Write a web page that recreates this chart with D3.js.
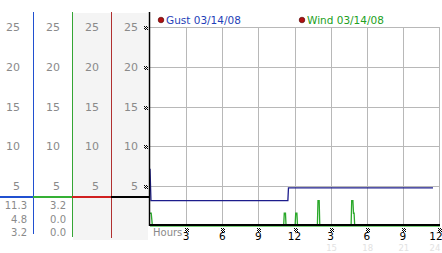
<!DOCTYPE html>
<html><head><meta charset="utf-8">
<script src="https://cdn.jsdelivr.net/npm/d3@7"></script>
<style>
html,body{margin:0;padding:0;background:#fff;}
svg{display:block;}
text{font-family:"DejaVu Sans",Verdana,sans-serif;}
</style></head>
<body>
<script>
// ---- data ----
const yTicks = [5, 10, 15, 20, 25];
const xTickHours = [3, 6, 9, 12, 15, 18, 21, 24];
const xTickLabels = ["3", "6", "9", "12", "3", "6", "9", "12"];
const faintHours = [15, 18, 21, 24];
const faintLabels = ["15", "18", "21", "24"];
const seriesNames = ["Gust 03/14/08", "Wind 03/14/08"];
const gustHours =  [0,   0.08, 11.45, 11.5, 23.5];
const gustValues = [7.2, 3.2,  3.2,   4.8,  4.8];
const windHours =  [0,   0.1, 0.2, 11.1, 11.15, 11.25, 11.3, 12.05, 12.1, 12.2, 12.25, 13.9, 13.95, 14.05, 14.1, 16.7, 16.75, 16.85, 16.9, 16.95, 17.0, 24];
const windValues = [1.6, 1.6, 0,   0,    1.6,   1.6,   0,    0,     1.6,  1.6,  0,     0,    3.2,   3.2,   0,    0,    3.2,   3.2,   1.6,  1.6,  0,    0];
const gustStats = ["11.3", "4.8", "3.2"];
const windStats = ["3.2", "0.0", "0.0"];
const markerValue = 3.6;

// ---- setup ----
const W = 442, H = 253;
const svg = d3.select("body").append("svg").attr("width", W).attr("height", H);

const x = d3.scaleLinear().domain([0, 24]).range([150, 439]);
const y = d3.scaleLinear().domain([0, 25]).range([226, 27]);

const gustColor = "#1c1c8c";
const windColor = "#2aa82a";

// left panel shading
svg.append("rect").attr("x", 73).attr("y", 13).attr("width", 75).attr("height", 227).attr("fill", "#f4f4f4");

// left panel column labels
const colRight = [20, 60, 99, 138];
colRight.forEach(cx => {
  svg.selectAll(null).data(yTicks).enter().append("text")
    .attr("x", cx).attr("y", d => y(d) + 4)
    .attr("text-anchor", "end").attr("font-size", 11).attr("fill", "#8a8a8a")
    .text(d => d);
});

// left vertical lines
const vLines = [{x: 33.5, c: "#2050d0", y2: 234}, {x: 72.5, c: "#35a535", y2: 237}, {x: 111.5, c: "#b03030", y2: 238}];
vLines.forEach(v => svg.append("line").attr("x1", v.x).attr("x2", v.x).attr("y1", 12).attr("y2", v.y2).attr("stroke", v.c).attr("stroke-width", 1));

// marker horizontal line segments
const segs = [[0, 33, "#2050d0"], [33, 72, "#35b035"], [72, 111, "#d02020"], [111, 150, "#000"]];
segs.forEach(s => svg.append("line").attr("x1", s[0]).attr("x2", s[1]).attr("y1", Math.round(y(markerValue)) ).attr("y2", Math.round(y(markerValue))).attr("stroke", s[2]).attr("stroke-width", 2));

// stats
svg.selectAll(null).data(gustStats).enter().append("text")
  .attr("x", 27).attr("y", (d, i) => 209 + i * 13.5).attr("text-anchor", "end")
  .attr("font-size", 10).attr("fill", "#8a8a8a").text(d => d);
svg.selectAll(null).data(windStats).enter().append("text")
  .attr("x", 66).attr("y", (d, i) => 209 + i * 13.5).attr("text-anchor", "end")
  .attr("font-size", 10).attr("fill", "#8a8a8a").text(d => d);

// grid
const grid = svg.append("g").attr("stroke", "#b8b8b8").attr("stroke-width", 1);
yTicks.forEach(t => grid.append("line").attr("x1", 150).attr("x2", 440).attr("y1", Math.round(y(t)) + 0.5).attr("y2", Math.round(y(t)) + 0.5));
xTickHours.forEach(h => grid.append("line").attr("x1", Math.round(x(h)) + 0.5).attr("x2", Math.round(x(h)) + 0.5).attr("y1", y(25)).attr("y2", y(0)));

// small markers
function marker(cx, cy) {
  const g = svg.append("g").attr("fill", "#000");
  [[0,0],[2,0],[1,1],[0,2],[2,2],[1,3],[3,1],[3,3]].forEach(p =>
    g.append("rect").attr("x", cx + p[0]).attr("y", cy + p[1]).attr("width", 1).attr("height", 1));
}
yTicks.forEach(t => marker(144, Math.round(y(t)) - 1));
xTickHours.forEach(h => marker(Math.round(x(h)) - 1, 228));

// series
const gustLine = d3.line().x(d => x(d[0])).y(d => y(d[1]));
svg.append("path").datum(gustHours.map((h, i) => [h, gustValues[i]]))
  .attr("d", gustLine).attr("fill", "none").attr("stroke", gustColor).attr("stroke-width", 1.3);
svg.append("path").datum(windHours.map((h, i) => [h, windValues[i]]))
  .attr("d", gustLine).attr("fill", "none").attr("stroke", windColor).attr("stroke-width", 1.3);

// axes lines
svg.append("line").attr("x1", 149.5).attr("x2", 149.5).attr("y1", 12).attr("y2", 226).attr("stroke", "#000").attr("stroke-width", 1.5);
svg.append("line").attr("x1", 150).attr("x2", 440).attr("y1", 225).attr("y2", 225).attr("stroke", "#000").attr("stroke-width", 2);
svg.append("line").attr("x1", 150).attr("x2", 440).attr("y1", 226.5).attr("y2", 226.5).attr("stroke", "#7ad07a").attr("stroke-width", 1);

// x labels
svg.selectAll(null).data(xTickHours).enter().append("text")
  .attr("x", (d, i) => Math.min(x(d), 436)).attr("y", 240).attr("text-anchor", "middle")
  .attr("font-size", 10.5).attr("fill", "#000").text((d, i) => xTickLabels[i]);
svg.selectAll(null).data(faintHours).enter().append("text")
  .attr("x", (d, i) => Math.min(x(d) + 1, 435)).attr("y", 250.5).attr("text-anchor", "middle")
  .attr("font-size", 8.5).attr("fill", "#e2e2e2").text((d, i) => faintLabels[i]);
svg.append("text").attr("x", 153).attr("y", 236).attr("font-size", 10).attr("fill", "#8a8a8a").text("Hours");

// legend
const legX = [161, 302];
const legC = ["#1f3fb8", "#22a022"];
seriesNames.forEach((n, i) => {
  svg.append("circle").attr("cx", legX[i]).attr("cy", 20).attr("r", 2.8).attr("fill", "#b01010").attr("stroke", "#400").attr("stroke-width", 0.6);
  svg.append("text").attr("x", legX[i] + 5).attr("y", 24).attr("font-size", 10.5).attr("fill", legC[i]).text(n);
});
</script>
</body></html>
